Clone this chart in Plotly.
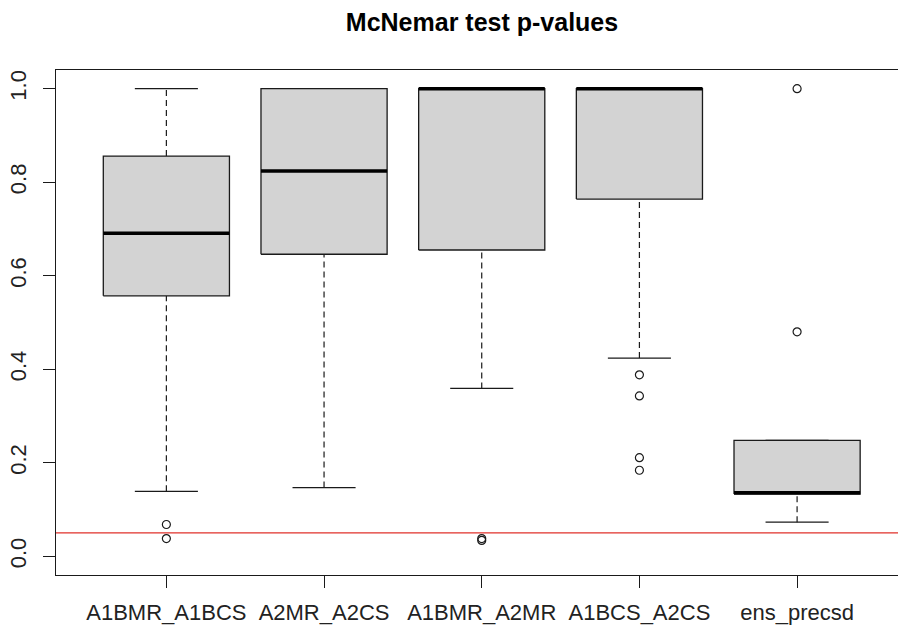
import plotly.graph_objects as go

# Summary statistics of the McNemar test p-values per comparison
categories = ["A1BMR_A1BCS", "A2MR_A2CS", "A1BMR_A2MR", "A1BCS_A2CS", "ens_precsd"]
lower_whisker = [0.139, 0.147, 0.359, 0.424, 0.073]
q1 = [0.557, 0.646, 0.655, 0.764, 0.133]
median = [0.691, 0.824, 1.000, 1.000, 0.136]
q3 = [0.856, 1.000, 1.000, 1.000, 0.248]
upper_whisker = [1.000, 1.000, 1.000, 1.000, 0.248]
outliers = [
    [0.068, 0.038],
    [],
    [0.038, 0.034],
    [0.388, 0.343, 0.211, 0.184],
    [1.000, 0.480],
]
threshold = 0.05

y_ticks = [0.0, 0.2, 0.4, 0.6, 0.8, 1.0]
y_tick_text = ["0.0", "0.2", "0.4", "0.6", "0.8", "1.0"]

FONT = "Liberation Sans, Arial, sans-serif"
HALF_BOX = 0.4
HALF_CAP = 0.2
EDGE = "#1a1a1a"

fig = go.Figure()

for i, name in enumerate(categories):
    x = i + 1
    # dashed whiskers
    for a, b in ((lower_whisker[i], q1[i]), (q3[i], upper_whisker[i])):
        if b > a:
            fig.add_trace(go.Scatter(
                x=[x, x], y=[a, b], mode="lines",
                line=dict(color=EDGE, width=1.2, dash="6px,4px"),
                hoverinfo="skip", showlegend=False))
    # whisker caps
    for v in (lower_whisker[i], upper_whisker[i]):
        fig.add_trace(go.Scatter(
            x=[x - HALF_CAP, x + HALF_CAP], y=[v, v], mode="lines",
            line=dict(color=EDGE, width=1.3),
            hoverinfo="skip", showlegend=False))
    # box body
    fig.add_trace(go.Scatter(
        x=[x - HALF_BOX, x + HALF_BOX, x + HALF_BOX, x - HALF_BOX, x - HALF_BOX],
        y=[q1[i], q1[i], q3[i], q3[i], q1[i]],
        mode="lines", fill="toself", fillcolor="#d3d3d3",
        line=dict(color=EDGE, width=1.3),
        name=name, showlegend=False))
    # median
    fig.add_trace(go.Scatter(
        x=[x - HALF_BOX, x + HALF_BOX], y=[median[i], median[i]], mode="lines",
        line=dict(color="black", width=3.5),
        hoverinfo="skip", showlegend=False))
    # outliers
    if outliers[i]:
        fig.add_trace(go.Scatter(
            x=[x] * len(outliers[i]), y=outliers[i], mode="markers",
            marker=dict(symbol="circle-open", size=8, color=EDGE,
                        line=dict(width=1.2, color=EDGE)),
            showlegend=False))

# significance threshold
fig.add_trace(go.Scatter(
    x=[0.3, 5.7], y=[threshold, threshold], mode="lines",
    line=dict(color="#e0302a", width=1.2),
    hoverinfo="skip", showlegend=False))

fig.update_layout(
    width=898, height=630,
    margin=dict(l=56, r=0, t=70, b=55),
    paper_bgcolor="white", plot_bgcolor="white",
    font=dict(family=FONT, size=22, color="#222"),
    title=dict(text="<b>McNemar test p-values</b>", x=482 / 898, xanchor="center",
               xref="container", y=1 - 31 / 630, yref="container", yanchor="bottom",
               font=dict(family=FONT, size=25, color="black")),
    xaxis=dict(range=[0.3, 5.64], tickvals=[1, 2, 3, 4, 5], ticktext=categories,
               showgrid=False, zeroline=False, showline=True, mirror=True,
               linecolor=EDGE, linewidth=1.3, ticks="outside", ticklen=12,
               tickcolor=EDGE, tickwidth=1.3, ticklabelstandoff=5,
               tickfont=dict(size=22)),
    yaxis=dict(range=[-0.04, 1.04], tickvals=y_ticks, ticktext=y_tick_text,
               tickangle=-90, showgrid=False, zeroline=False, showline=True,
               linecolor=EDGE, linewidth=1.3, ticks="outside", ticklen=12,
               tickcolor=EDGE, tickwidth=1.3, ticklabelstandoff=8,
               tickfont=dict(size=22)),
)

fig.write_html("out.html")
